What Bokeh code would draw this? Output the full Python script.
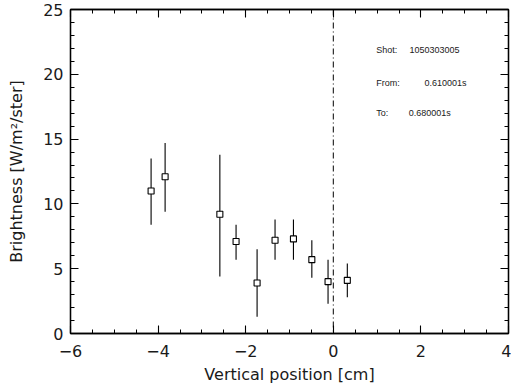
from bokeh.plotting import figure
from bokeh.models import LinearAxis, SingleIntervalTicker, Range1d, Label, Span
from bokeh.embed import file_html
from bokeh.resources import INLINE

# data
pos = [-4.16, -3.84, -2.59, -2.22, -1.74, -1.33, -0.91, -0.49, -0.12, 0.32]
bright = [11.0, 12.1, 9.2, 7.1, 3.9, 7.2, 7.3, 5.7, 4.0, 4.1]
err_hi = [13.5, 14.7, 13.8, 8.4, 6.5, 8.8, 8.8, 7.2, 5.7, 5.4]
err_lo = [8.4, 9.4, 4.4, 5.7, 1.3, 5.7, 5.7, 4.3, 2.3, 2.8]

x_label = "Vertical position [cm]"
y_label = "Brightness [W/m\u00b2/ster]"
info_keys = ["Shot:", "From:", "To:"]
info_vals = ["1050303005", "0.610001s", "0.680001s"]

FONT = "DejaVu Sans"
TXT = "#1a1a1a"

p = figure(width=511, height=388, output_backend="svg", toolbar_location=None,
           x_range=Range1d(-6, 4), y_range=Range1d(0, 25),
           x_axis_location=None, y_axis_location=None,
           min_border_left=70, min_border_right=3, min_border_top=9, min_border_bottom=55)
p.grid.visible = False
p.outline_line_color = "black"
p.outline_line_width = 1.3
p.background_fill_color = "white"
p.border_fill_color = "white"


def make_axis(ticker):
    ax = LinearAxis(ticker=ticker)
    ax.major_tick_in = 8
    ax.major_tick_out = 0
    ax.minor_tick_in = 4
    ax.minor_tick_out = 0
    ax.axis_line_width = 1.3
    ax.major_tick_line_width = 1.1
    ax.minor_tick_line_width = 1.0
    ax.axis_line_color = "black"
    ax.major_tick_line_color = "black"
    ax.minor_tick_line_color = "black"
    ax.major_label_text_font = FONT
    ax.major_label_text_font_size = "16px"
    ax.major_label_text_color = TXT
    ax.axis_label_text_font = FONT
    ax.axis_label_text_font_style = "normal"
    ax.axis_label_text_font_size = "16px"
    ax.axis_label_text_color = TXT
    return ax


def hide_labels(ax):
    ax.major_label_text_font_size = "0px"
    ax.major_label_text_color = None
    ax.major_label_standoff = 0


bottom = make_axis(SingleIntervalTicker(interval=2, num_minor_ticks=4))
bottom.axis_label = x_label
bottom.major_label_standoff = 11
bottom.axis_label_standoff = 5
left = make_axis(SingleIntervalTicker(interval=5, num_minor_ticks=5))
left.axis_label = y_label
left.major_label_standoff = 7
left.axis_label_standoff = 14
top = make_axis(SingleIntervalTicker(interval=2, num_minor_ticks=4))
hide_labels(top)
right = make_axis(SingleIntervalTicker(interval=5, num_minor_ticks=5))
hide_labels(right)
p.add_layout(bottom, "below")
p.add_layout(left, "left")
p.add_layout(top, "above")
p.add_layout(right, "right")

# vertical dash-dot line at zero
p.add_layout(Span(location=0, dimension="height", line_color="black",
                  line_width=1, line_dash="6 3 1 3"))

# error bars and points
p.segment(x0=pos, y0=err_lo, x1=pos, y1=err_hi, line_color="black", line_width=1.1)
p.scatter(x=pos, y=bright, marker="square", size=6, fill_color="white",
          line_color="black", line_width=1.1)

# annotation text
key_y = [21.9, 19.3, 17.05]
val_x = [1.74, 2.08, 1.72]
for k, v, yy, vx in zip(info_keys, info_vals, key_y, val_x):
    p.add_layout(Label(x=0.98, y=yy, text=k, text_font="Liberation Sans", text_font_size="9px",
                       text_baseline="middle", text_color=TXT))
    p.add_layout(Label(x=vx, y=yy, text=v, text_font="Liberation Sans", text_font_size="9px",
                       text_baseline="middle", text_color=TXT))

open("out.html", "w").write(file_html(p, INLINE))
